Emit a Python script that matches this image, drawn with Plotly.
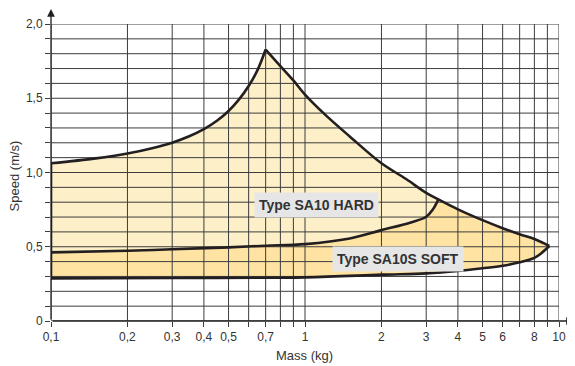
import plotly.graph_objects as go

# Upper boundary of the HARD range (rising part up to the peak at 0.7 kg)
hard_up_x = [0.1, 0.15, 0.2, 0.25, 0.3, 0.35, 0.4, 0.45, 0.5, 0.55, 0.6, 0.65, 0.7]
hard_up_y = [1.062, 1.095, 1.128, 1.164, 1.201, 1.244, 1.292, 1.348, 1.414, 1.492, 1.582, 1.689, 1.828]

# Upper boundary, falling part (peak down to the SOFT tip)
fall_x = [0.7, 0.8, 0.9, 1.0, 1.2, 1.5, 2.0, 2.5, 3.0, 3.35, 4.0, 5.0, 6.0, 7.0, 8.0, 8.7, 9.16]
fall_y = [1.828, 1.717, 1.62, 1.525, 1.39, 1.243, 1.062, 0.956, 0.863, 0.819, 0.752, 0.679, 0.625, 0.584, 0.552, 0.524, 0.505]

# Lower boundary of HARD (= middle curve)
mid_x = [0.1, 0.2, 0.3, 0.5, 0.7, 1.0, 1.5, 2.0, 2.59, 3.0, 3.19, 3.35]
mid_y = [0.462, 0.473, 0.483, 0.496, 0.507, 0.518, 0.556, 0.612, 0.662, 0.702, 0.752, 0.819]

# Lower boundary of SOFT
low_x = [0.1, 0.3, 1.0, 2.0, 3.0, 4.0, 5.0, 6.0, 7.0, 8.0, 8.5, 9.16]
low_y = [0.287, 0.29, 0.294, 0.312, 0.321, 0.337, 0.355, 0.372, 0.395, 0.425, 0.455, 0.505]

x_grid = [0.1, 0.2, 0.3, 0.4, 0.5, 0.6, 0.7, 0.8, 0.9, 1, 2, 3, 4, 5, 6, 7, 8, 9, 10]
x_labels = ["0,1", "0,2", "0,3", "0,4", "0,5", "", "0,7", "", "", "1",
            "2", "3", "4", "5", "6", "", "8", "", "10"]
y_grid = [round(i * 0.1, 1) for i in range(21)]
y_labels = {0.0: "0", 0.5: "0,5", 1.0: "1,0", 1.5: "1,5", 2.0: "2,0"}

LINE = "#231f20"
GRID = "#3c3c3c"
TXT = "#333333"
FONT = "Liberation Sans, Arial, sans-serif"

fig = go.Figure()

# HARD area
idx = fall_x.index(3.35)
hx = hard_up_x + fall_x[1:idx + 1] + mid_x[::-1]
hy = hard_up_y + fall_y[1:idx + 1] + mid_y[::-1]
fig.add_trace(go.Scatter(x=hx, y=hy, fill="toself", fillcolor="#fdefc7",
                         line=dict(width=0), mode="lines", hoverinfo="skip"))

# SOFT area
sx = mid_x + fall_x[idx + 1:] + low_x[::-1]
sy = mid_y + fall_y[idx + 1:] + low_y[::-1]
fig.add_trace(go.Scatter(x=sx, y=sy, fill="toself", fillcolor="#fee3a2",
                         line=dict(width=0), mode="lines", hoverinfo="skip"))

# grid drawn over the fills
gx, gy = [], []
for v in x_grid:
    gx += [v, v, None]
    gy += [0, 2.0, None]
for v in y_grid:
    gx += [0.1, 10, None]
    gy += [v, v, None]
fig.add_trace(go.Scatter(x=gx, y=gy, mode="lines", line=dict(color=GRID, width=1),
                         hoverinfo="skip"))

# boundary curves
for cx, cy in [(hard_up_x, hard_up_y), (fall_x, fall_y), (mid_x, mid_y), (low_x, low_y)]:
    fig.add_trace(go.Scatter(x=cx, y=cy, mode="lines",
                             line=dict(color=LINE, width=2.6, shape="spline", smoothing=1.0),
                             hoverinfo="skip"))

# left border of the areas
fig.add_trace(go.Scatter(x=[0.1, 0.1], y=[low_y[0], hard_up_y[0]], mode="lines",
                         line=dict(color=LINE, width=2.6), hoverinfo="skip"))

fig.update_xaxes(type="log", range=[-1, 1], showgrid=False, zeroline=False, automargin=False,
                 tickvals=x_grid, ticktext=x_labels, ticks="outside", ticklen=5,
                 tickcolor=GRID, tickfont=dict(size=12, color=TXT, family=FONT))
fig.update_yaxes(range=[0, 2.0], showgrid=False, zeroline=False, automargin=False,
                 tickvals=y_grid, ticktext=[y_labels.get(v, "") for v in y_grid],
                 ticks="outside", ticklen=5, tickcolor=GRID,
                 tickfont=dict(size=12, color=TXT, family=FONT))


def label(x, y, text, size, **kw):
    return dict(x=x, y=y, xref="paper", yref="paper", text=text, showarrow=False,
                xanchor="center", yanchor="middle",
                font=dict(size=size, color=TXT, family=FONT), **kw)


anns = [
    # axis arrows
    dict(x=0, y=1.0707, ax=0, ay=318, xref="paper", yref="paper", text="",
         showarrow=True, arrowhead=2, arrowsize=1.2, arrowwidth=1.3, arrowcolor=LINE),
    dict(x=1.0315, y=0, ax=-524, ay=0, xref="paper", yref="paper", text="",
         showarrow=True, arrowhead=2, arrowsize=1.2, arrowwidth=1.3, arrowcolor=LINE),
    # axis titles
    label(-0.071, 0.49, "Speed (m/s)", 13, textangle=-90),
    label(0.4995, -0.1145, "Mass (kg)", 13),
    # range labels
    label(0.5226, 0.389, "<b>Type SA10 HARD</b>", 14, bgcolor="#e6e6e6", borderpad=4),
    label(0.683, 0.2104, "<b>Type SA10S SOFT</b>", 14, bgcolor="#e6e6e6", borderpad=4),
]

# page body keeps its default 8 px margin, so the figure is 8 px smaller
fig.update_layout(width=567, height=358, showlegend=False,
                  margin=dict(l=43, r=16, t=16, b=45),
                  paper_bgcolor="white", plot_bgcolor="white",
                  annotations=anns)

fig.write_html("out.html")
